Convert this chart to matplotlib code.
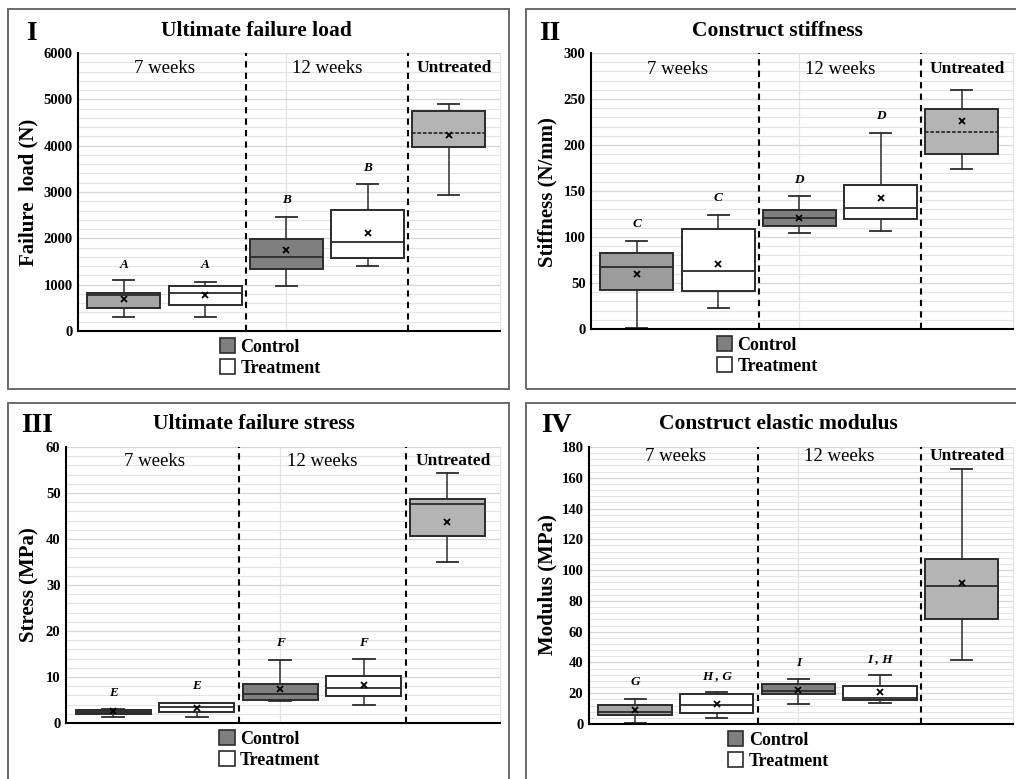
import numpy as np
import matplotlib.pyplot as plt
from matplotlib.patches import Rectangle, Patch
from matplotlib.ticker import MultipleLocator

plt.rcParams['font.family'] = ['Liberation Serif', 'DejaVu Serif']

W, H = 1016, 779  # figure size in pixels (dpi 100)

groups = ['7 weeks', '12 weeks', 'Untreated']
legend_labels = ['Control', 'Treatment']
positions = [0, 1, 2, 3, 4]  # 7wk ctrl, 7wk treat, 12wk ctrl, 12wk treat, untreated

# I - Ultimate failure load (N)
load_lo = [295, 310, 980, 1395, 2930]
load_q1 = [490, 570, 1330, 1575, 3970]
load_med = [785, 815, 1590, 1920, 4280]
load_q3 = [825, 980, 1980, 2620, 4750]
load_hi = [1100, 1065, 2470, 3165, 4890]
load_mean = [700, 770, 1750, 2120, 4230]
load_letters = ['A', 'A', 'B', 'B']
load_letter_y = [1420, 1420, 2830, 3510]

# II - Construct stiffness (N/mm)
stiff_lo = [1, 23, 104, 106, 174]
stiff_q1 = [42, 41, 112, 120, 190]
stiff_med = [67, 63, 121, 132, 214]
stiff_q3 = [83, 109, 129, 157, 239]
stiff_hi = [96, 124, 145, 213, 260]
stiff_mean = [60, 71, 121, 142, 226]
stiff_letters = ['C', 'C', 'D', 'D']
stiff_letter_y = [114, 142, 162, 231]

# III - Ultimate failure stress (MPa)
stress_lo = [1.3, 1.3, 4.7, 4.0, 34.9]
stress_q1 = [2.0, 2.3, 4.9, 5.9, 40.7]
stress_med = [2.5, 3.5, 6.2, 7.7, 47.6]
stress_q3 = [2.9, 4.3, 8.5, 10.2, 48.6]
stress_hi = [3.0, 4.4, 13.6, 13.9, 54.4]
stress_mean = [2.6, 3.2, 7.4, 8.2, 43.7]
stress_letters = ['E', 'E', 'F', 'F']
stress_letter_y = [6.5, 8.0, 17.4, 17.4]

# IV - Construct elastic modulus (MPa)
mod_lo = [0.6, 3.7, 12.8, 13.6, 41.4]
mod_q1 = [5.8, 7.4, 19.7, 15.4, 68.0]
mod_med = [8.0, 12.3, 21.7, 16.9, 89.9]
mod_q3 = [12.3, 19.3, 25.8, 24.7, 107.2]
mod_hi = [16.2, 20.8, 29.2, 31.8, 165.7]
mod_mean = [8.9, 13.0, 22.1, 20.6, 91.6]
mod_letters = ['G', 'H , G', 'I', 'I , H']
mod_letter_y = [27, 31, 39.6, 42.2]

CTRL = '#7f7f7f'
TREAT = '#ffffff'
UNTR = '#b4b4b4'
EDGE = '#2b2b2b'

fig = plt.figure(figsize=(W / 100, H / 100), dpi=100)


def frac(x, y):
    return x / W, 1 - y / H


def add_frame(x0, y0, x1, y1):
    fig.add_artist(Rectangle((x0 / W, 1 - y1 / H), (x1 - x0) / W, (y1 - y0) / H,
                             transform=fig.transFigure, fill=False,
                             ec='#6a6a6a', lw=1.4))


def draw_panel(box, frame, numeral, num_xy, title, title_xy, ylabel, ylab_xy,
               lo, q1, med, q3, hi, mean, letters, letter_y, ymax, major,
               ctrl7, legend_x, cat_y, dashed_median):
    left, top, right, bottom = box
    add_frame(*frame)
    ax = fig.add_axes([left / W, 1 - bottom / H, (right - left) / W, (bottom - top) / H])

    stats = []
    for i in range(len(positions)):
        stats.append(dict(whislo=lo[i], q1=q1[i], med=med[i], q3=q3[i],
                          whishi=hi[i], mean=mean[i], fliers=[]))
    parts = ax.bxp(stats, positions=positions, widths=0.9, patch_artist=True,
                   showmeans=True, capwidths=0.26,
                   boxprops=dict(edgecolor=EDGE, linewidth=1.4),
                   medianprops=dict(color=EDGE, linewidth=1.3, zorder=5),
                   whiskerprops=dict(color=EDGE, linewidth=1.1),
                   capprops=dict(color=EDGE, linewidth=1.3),
                   meanprops=dict(marker='x', markeredgecolor='black',
                                  markersize=4.5, markeredgewidth=1.3, zorder=6))
    fills = [ctrl7, TREAT, CTRL, TREAT, UNTR]
    for patch, c in zip(parts['boxes'], fills):
        patch.set_facecolor(c)
        patch.set_zorder(3)
    if dashed_median:
        parts['medians'][4].set_linestyle((0, (2, 1)))

    for i, (t, y) in enumerate(zip(letters, letter_y)):
        ax.text(positions[i], y, t, ha='center', va='center', fontsize=9.5,
                weight='bold', style='italic')

    # group separators
    for x in [1.5, 3.5]:
        ax.axvline(x, color='black', lw=1.5, ls=(0, (3, 2.5)), zorder=4)
    ax.axvline(2, color='#e3e3e3', lw=0.9, zorder=0)

    ax.text(0.5, cat_y, groups[0], transform=ax.get_xaxis_transform(),
            ha='center', va='center', fontsize=13.5)
    ax.text(2.5, cat_y, groups[1], transform=ax.get_xaxis_transform(),
            ha='center', va='center', fontsize=13.5)
    ax.text(4.07, cat_y, groups[2], transform=ax.get_xaxis_transform(),
            ha='center', va='center', fontsize=12.5, weight='bold')

    ax.set_xlim(-0.565, 4.63)
    ax.set_ylim(0, ymax)
    ax.yaxis.set_major_locator(MultipleLocator(major))
    ax.yaxis.set_minor_locator(MultipleLocator(major / 5))
    ax.grid(axis='y', which='major', color='#d6d6d6', lw=0.9, zorder=0)
    ax.grid(axis='y', which='minor', color='#e4e4e4', lw=0.8, zorder=0)
    ax.set_axisbelow(True)
    ax.set_xticks([])
    ax.tick_params(axis='y', which='both', length=0, pad=4)
    for lab in ax.get_yticklabels():
        lab.set_fontweight('bold')
        lab.set_fontsize(10.5)
    ax.spines['top'].set_visible(False)
    ax.spines['left'].set_linewidth(1.5)
    ax.spines['bottom'].set_linewidth(1.5)
    ax.spines['right'].set_color('#e3e3e3')
    ax.spines['right'].set_linewidth(0.9)

    handles = [Patch(facecolor=CTRL, edgecolor=EDGE, lw=1.2),
               Patch(facecolor=TREAT, edgecolor=EDGE, lw=1.2)]
    ax.legend(handles, legend_labels, loc='upper left',
              bbox_to_anchor=(legend_x, -0.025), frameon=False,
              prop=dict(weight='bold', size=13), handlelength=0.85,
              handleheight=0.9, handletextpad=0.3, labelspacing=0.18,
              borderpad=0, borderaxespad=0)

    fig.text(*frac(*num_xy), numeral, ha='left', va='center', fontsize=20,
             weight='bold')
    fig.text(*frac(*title_xy), title, ha='center', va='center', fontsize=15.5,
             weight='bold')
    fig.text(*frac(*ylab_xy), ylabel, ha='center', va='center', fontsize=15,
             weight='bold', rotation=90)
    return ax


draw_panel((78, 53, 500, 331), (8, 9, 509, 389), 'I', (26, 34),
           'Ultimate failure load', (256, 31), 'Failure  load (N)', (28, 192),
           load_lo, load_q1, load_med, load_q3, load_hi, load_mean,
           load_letters, load_letter_y, 6000, 1000, '#a6a6a6', 0.336, 0.946, True)

draw_panel((591, 53, 1013, 329), (526, 9, 1027, 389), 'II', (539, 34),
           'Construct stiffness', (777, 31), 'Stiffness (N/mm)', (547, 192),
           stiff_lo, stiff_q1, stiff_med, stiff_q3, stiff_hi, stiff_mean,
           stiff_letters, stiff_letter_y, 300, 50, '#9c9c9c', 0.298, 0.942, True)

draw_panel((66, 447, 500, 723), (8, 403, 509, 783), 'III', (21, 425),
           'Ultimate failure stress', (254, 424), 'Stress (MPa)', (29, 585),
           stress_lo, stress_q1, stress_med, stress_q3, stress_hi, stress_mean,
           stress_letters, stress_letter_y, 60, 10, '#707070', 0.353, 0.949, False)

draw_panel((589, 447, 1013, 724), (526, 403, 1027, 783), 'IV', (541, 425),
           'Construct elastic modulus', (778, 424), 'Modulus (MPa)', (547, 585),
           mod_lo, mod_q1, mod_med, mod_q3, mod_hi, mod_mean,
           mod_letters, mod_letter_y, 180, 20, '#a6a6a6', 0.328, 0.967, False)

fig.savefig('out.png', dpi=100)
